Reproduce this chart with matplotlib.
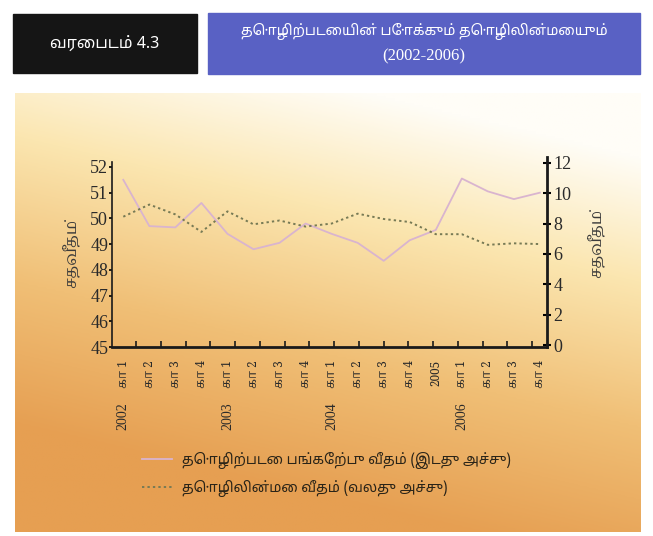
import numpy as np
import matplotlib
matplotlib.use('Agg')
import matplotlib.pyplot as plt
from matplotlib.colors import LinearSegmentedColormap
from matplotlib.patches import Rectangle

# தரவு (2002 கா1 - 2006 கா4)
quarter_labels = ['கா 1', 'கா 2', 'கா 3', 'கா 4',
                  'கா 1', 'கா 2', 'கா 3', 'கா 4',
                  'கா 1', 'கா 2', 'கா 3', 'கா 4',
                  '2005',
                  'கா 1', 'கா 2', 'கா 3', 'கா 4']
year_labels = {0: '2002', 4: '2003', 8: '2004', 13: '2006'}
participation = [51.5, 49.7, 49.65, 50.6, 49.4, 48.8, 49.05, 49.8, 49.4,
                 49.05, 48.35, 49.15, 49.55, 51.55, 51.05, 50.75, 51.0]
unemployment = [8.45, 9.25, 8.6, 7.45, 8.8, 7.95, 8.2, 7.8, 8.0,
                8.65, 8.3, 8.1, 7.3, 7.3, 6.6, 6.7, 6.65]
left_ticks = [45, 46, 47, 48, 49, 50, 51, 52]
right_ticks = [0, 2, 4, 6, 8, 10, 12]

header_left = 'வரைபடம் 4.3'
header_title = 'தொழிற்படையின் போக்கும் தொழிலின்மையும்'
header_years = '(2002-2006)'
y_label = 'சதவீதம்'
legend_labels = ['தொழிற்படை பங்கேற்பு வீதம் (இடது அச்சு)',
                 'தொழிலின்மை வீதம் (வலது அச்சு)']

TAMIL_SANS = ['Noto Sans Tamil', 'Lohit Tamil', 'DejaVu Sans']
TAMIL_SERIF = ['Noto Serif Tamil', 'Liberation Serif', 'DejaVu Serif']
NUM = ['Liberation Serif', 'DejaVu Serif']

W, H = 653, 536
fig = plt.figure(figsize=(W / 100, H / 100), dpi=100)
fig.patch.set_facecolor('white')

def fx(px):
    return px / W

def fy(py):
    return 1 - py / H

# பின்னணி நிற சாய்வு
bg = fig.add_axes([fx(15), fy(532), fx(641) - fx(15), fy(93) - fy(532)], zorder=0)
yy, xx = np.mgrid[0:1:200j, 0:1:200j]
t = np.clip(yy * 1.05 + (1 - xx) * 0.35 - 0.15, 0, 1)
cmap = LinearSegmentedColormap.from_list(
    'bg', [(0, '#fffdf7'), (0.3, '#fbe6b0'), (0.65, '#f0bf76'), (1, '#e69f52')])
bg.imshow(t, cmap=cmap, aspect='auto', origin='upper', extent=[0, 1, 1, 0],
          interpolation='bilinear')
bg.axis('off')

# தலைப்பு பெட்டிகள்
fig.patches.append(Rectangle((fx(13), fy(73)), fx(197) - fx(13), fy(14) - fy(73),
                             transform=fig.transFigure, color='#151515', zorder=1))
fig.patches.append(Rectangle((fx(208), fy(74)), fx(640) - fx(208), fy(13) - fy(74),
                             transform=fig.transFigure, color='#5961c4', zorder=1))
fig.text(fx(105), fy(44), header_left, color='white', fontsize=11.5,
         family=TAMIL_SANS, ha='center', va='center', zorder=2)
fig.text(fx(424), fy(32), header_title, color='white', fontsize=10.2,
         family=TAMIL_SANS, ha='center', va='center', zorder=2)
fig.text(fx(424), fy(56), header_years, color='white', fontsize=12,
         family=NUM, ha='center', va='center', zorder=2)

# வரைபடம்
ax = fig.add_axes([fx(111.7), fy(347), fx(546.7) - fx(111.7), fy(160) - fy(347)], zorder=2)
ax.patch.set_alpha(0)
ax2 = ax.twinx()
x = np.arange(len(participation))

l1, = ax.plot(x, participation, color='#d9b4cf', lw=1.3)
l2, = ax2.plot(x, unemployment, color='#777a55', lw=1.4, ls=(0, (1.2, 1.6)))

ax.set_xlim(-0.445, 16.26)
ax.set_ylim(45, 52.27)
ax2.set_ylim(-0.12, 12.18)

ax.spines['top'].set_visible(False)
ax2.spines['top'].set_visible(False)
ax2.spines['left'].set_visible(False)
ax2.spines['bottom'].set_visible(False)
ax.spines['right'].set_visible(False)
ax.spines['left'].set_bounds(45, 52.2)
ax.spines['left'].set_linewidth(1.2)
ax.spines['bottom'].set_linewidth(2.0)
ax2.spines['right'].set_linewidth(2.0)
ax2.spines['right'].set_bounds(-0.12, 12.4)
for sp in [ax.spines['left'], ax.spines['bottom'], ax2.spines['right']]:
    sp.set_color('#1a1a1a')

ax.set_yticks(left_ticks)
ax.set_yticklabels([str(v) for v in left_ticks], family=NUM, fontsize=13, color='#2a2a2a')
ax.tick_params(axis='y', direction='out', length=2.5, width=1.2, pad=0)
ax2.set_yticks(right_ticks)
ax2.set_yticklabels([str(v) for v in right_ticks], family=NUM, fontsize=13, color='#2a2a2a')
ax2.tick_params(axis='y', direction='inout', length=6, width=1.5, pad=2)

ax.set_xticks(np.linspace(0.49, 15.7, 17))
ax.set_xticklabels([])
ax.tick_params(axis='x', direction='in', length=4, width=1.2, color='#1a1a1a')

# x அச்சு குறிகள்
for i, lab in enumerate(quarter_labels):
    ax.text(i, -0.07, lab, rotation=90, ha='center', va='top', fontsize=8.5,
            family=TAMIL_SERIF, color='#2a2a2a', transform=ax.get_xaxis_transform())
for i, yr in year_labels.items():
    ax.text(i, -0.295, yr, rotation=90, ha='center', va='top', fontsize=10,
            family=NUM, color='#2a2a2a', transform=ax.get_xaxis_transform())

fig.text(fx(72), fy(253), y_label, rotation=90, ha='center', va='center',
         fontsize=11, family=TAMIL_SERIF, color='#3a3a3a', zorder=3)
fig.text(fx(597), fy(243), y_label, rotation=90, ha='center', va='center',
         fontsize=11, family=TAMIL_SERIF, color='#3a3a3a', zorder=3)

# விளக்கம்
leg = fig.legend([l1, l2], legend_labels, loc='upper left',
                 bbox_to_anchor=(fx(142), fy(452)), frameon=False,
                 borderpad=0, borderaxespad=0,
                 handlelength=2.1, handletextpad=0.7, labelspacing=0.8,
                 prop={'family': TAMIL_SANS, 'size': 10.2})
for txt in leg.get_texts():
    txt.set_color('#2a2418')

fig.savefig('out.png', dpi=100)
